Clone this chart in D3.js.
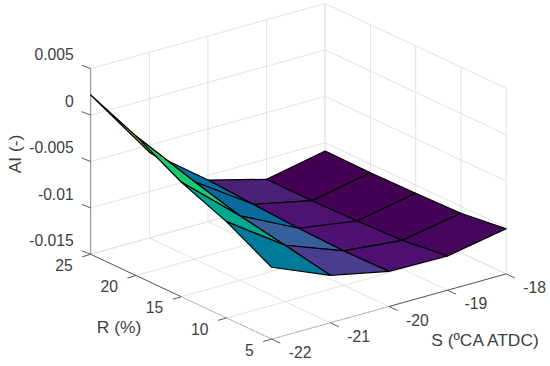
<!DOCTYPE html>
<html>
<head>
<meta charset="utf-8">
<script src="https://cdn.jsdelivr.net/npm/d3@7"></script>
<style>
body { margin: 0; background: #fff; }
text { font-family: "Liberation Sans", Arial, sans-serif; font-size: 15.7px; fill: #404040; }
text.axis-label { font-size: 17.4px; }
</style>
</head>
<body>
<div id="chart"></div>
<script>
// data
const rTicks = [25, 20, 15, 10, 5];
const sTicks = [-22, -21, -20, -19, -18];
const aiTicks = [0.005, 0, -0.005, -0.01, -0.015];
const aiTickLabels = ["0.005", "0", "-0.005", "-0.01", "-0.015"];

// AI per S row, each row runs along rTicks
const aiS22 = [0.00217, 0.00003, -0.00264, -0.00463, -0.00726];
const aiS21 = [-0.00573, -0.00665, -0.00803, -0.00893, -0.00988];
const aiS20 = [-0.01051, -0.01084, -0.01114, -0.01130, -0.01121];
const aiS19 = [-0.01219, -0.01221, -0.01211, -0.01191, -0.01131];
const aiS18 = [-0.01089, -0.01095, -0.01088, -0.01075, -0.01013];
const aiRows = [aiS22, aiS21, aiS20, aiS19, aiS18];

// colormap
const colorStops = [-0.0122, -0.0113, -0.0108, -0.0105, -0.0090, -0.0080, -0.00665, -0.00465, -0.0026, -0.00013, 0.0022];
const colorRange = ["#440154", "#4e1070", "#4e1272", "#4b2178", "#4b3a8e", "#36609b", "#0a6a9e", "#007a99", "#00a88f", "#10c878", "#a0e020"];

const width = 550, height = 366;
const originX = 90.7, originY = 254.3;

// one pair of scales per 3d axis, the picture is an orthographic view
const rToX = d3.scaleLinear().domain([25, 5]).range([0, 181]);
const rToY = d3.scaleLinear().domain([25, 5]).range([0, 84.8]);
const sToX = d3.scaleLinear().domain([-22, -18]).range([0, 234.5]);
const sToY = d3.scaleLinear().domain([-22, -18]).range([0, -65.2]);
const zToY = d3.scaleLinear().domain([-0.015, 0.005]).range([0, -185.6]);
const color = d3.scaleLinear().domain(colorStops).range(colorRange).clamp(true);

function project(r, s, z) {
  return [originX + rToX(r) + sToX(s), originY + rToY(r) + sToY(s) + zToY(z)];
}

const svg = d3.select("#chart").append("svg")
  .attr("width", width)
  .attr("height", height)
  .style("display", "block");

const zMin = -0.015, zMax = 0.005, rFar = 25, rNear = 5, sLeft = -22, sRight = -18;

function addLine(g, a, b) {
  return g.append("line")
    .attr("x1", a[0]).attr("y1", a[1])
    .attr("x2", b[0]).attr("y2", b[1]);
}

// grid on the two walls and the floor
const grid = svg.append("g").attr("stroke", "#e2e2e2").attr("stroke-width", 1);
aiTicks.forEach(function (z) {
  addLine(grid, project(rFar, sLeft, z), project(rFar, sRight, z));
  addLine(grid, project(rFar, sRight, z), project(rNear, sRight, z));
});
sTicks.forEach(function (s) {
  addLine(grid, project(rFar, s, zMin), project(rFar, s, zMax));
  addLine(grid, project(rFar, s, zMin), project(rNear, s, zMin));
});
rTicks.forEach(function (r) {
  addLine(grid, project(r, sRight, zMin), project(r, sRight, zMax));
  addLine(grid, project(r, sLeft, zMin), project(r, sRight, zMin));
});

// axis lines
const axes = svg.append("g").attr("stroke", "#5a5a5a").attr("stroke-width", 1);
addLine(axes, project(rFar, sLeft, zMin), project(rFar, sLeft, zMax)).attr("stroke", "#8a8a8a");
addLine(axes, project(25, sLeft, zMin), project(15, sLeft, zMin));
addLine(axes, project(15, sLeft, zMin), project(5, sLeft, zMin)).attr("stroke", "#9a9a9a").attr("stroke-dasharray", "1.5,1");
addLine(axes, project(rNear, -20, zMin), project(rNear, -18, zMin));
addLine(axes, project(rNear, -22, zMin), project(rNear, -20, zMin)).attr("stroke", "#9a9a9a").attr("stroke-dasharray", "1.5,1");

// ticks
aiTicks.forEach(function (z) {
  const p = project(rFar, sLeft, z);
  addLine(axes, p, [p[0] - 9, p[1] - 3.5]);
});
rTicks.forEach(function (r) {
  const p = project(r, sLeft, zMin);
  addLine(axes, p, [p[0] - 8.5, p[1] + 2.5]);
});
sTicks.forEach(function (s) {
  const p = project(rNear, s, zMin);
  addLine(axes, p, [p[0] + 8.5, p[1] + 4]);
});

// tick labels
const labels = svg.append("g");
aiTicks.forEach(function (z, i) {
  const p = project(rFar, sLeft, z);
  labels.append("text").attr("x", p[0] - 17).attr("y", p[1] - 12.5)
    .attr("text-anchor", "end").attr("dominant-baseline", "middle").text(aiTickLabels[i]);
});
rTicks.forEach(function (r) {
  const p = project(r, sLeft, zMin);
  labels.append("text").attr("x", p[0] - 18).attr("y", p[1] + 12.5)
    .attr("text-anchor", "end").attr("dominant-baseline", "middle").text(r);
});
sTicks.forEach(function (s) {
  const p = project(rNear, s, zMin);
  labels.append("text").attr("x", p[0] + 17).attr("y", p[1] + 15)
    .attr("text-anchor", "start").attr("dominant-baseline", "middle").text(s);
});

labels.append("text").attr("class", "axis-label").attr("x", 119).attr("y", 328)
  .attr("text-anchor", "middle").attr("dominant-baseline", "middle").text("R (%)");
labels.append("text").attr("class", "axis-label").attr("x", 485).attr("y", 341)
  .attr("text-anchor", "middle").attr("dominant-baseline", "middle").text("S (ºCA ATDC)");
labels.append("text").attr("class", "axis-label")
  .attr("transform", "translate(16.5,154) rotate(-90)")
  .attr("text-anchor", "middle").attr("dominant-baseline", "middle").text("AI (-)");

// surface faces, far ones first so the near ones paint over them
const faces = [];
for (let i = sTicks.length - 2; i >= 0; i--) {
  for (let j = 0; j < rTicks.length - 1; j++) {
    faces.push({ i: i, j: j });
  }
}

svg.append("g").selectAll("path")
  .data(faces)
  .enter()
  .append("path")
  .attr("d", function (d) {
    const corners = [[d.i, d.j], [d.i, d.j + 1], [d.i + 1, d.j + 1], [d.i + 1, d.j]];
    return d3.line()(corners.map(function (c) {
      return project(rTicks[c[1]], sTicks[c[0]], aiRows[c[0]][c[1]]);
    })) + "Z";
  })
  .attr("fill", function (d) { return color(aiRows[d.i][d.j]); })
  .attr("stroke", "#000")
  .attr("stroke-width", 1.2)
  .attr("stroke-linejoin", "round");
</script>
</body>
</html>
